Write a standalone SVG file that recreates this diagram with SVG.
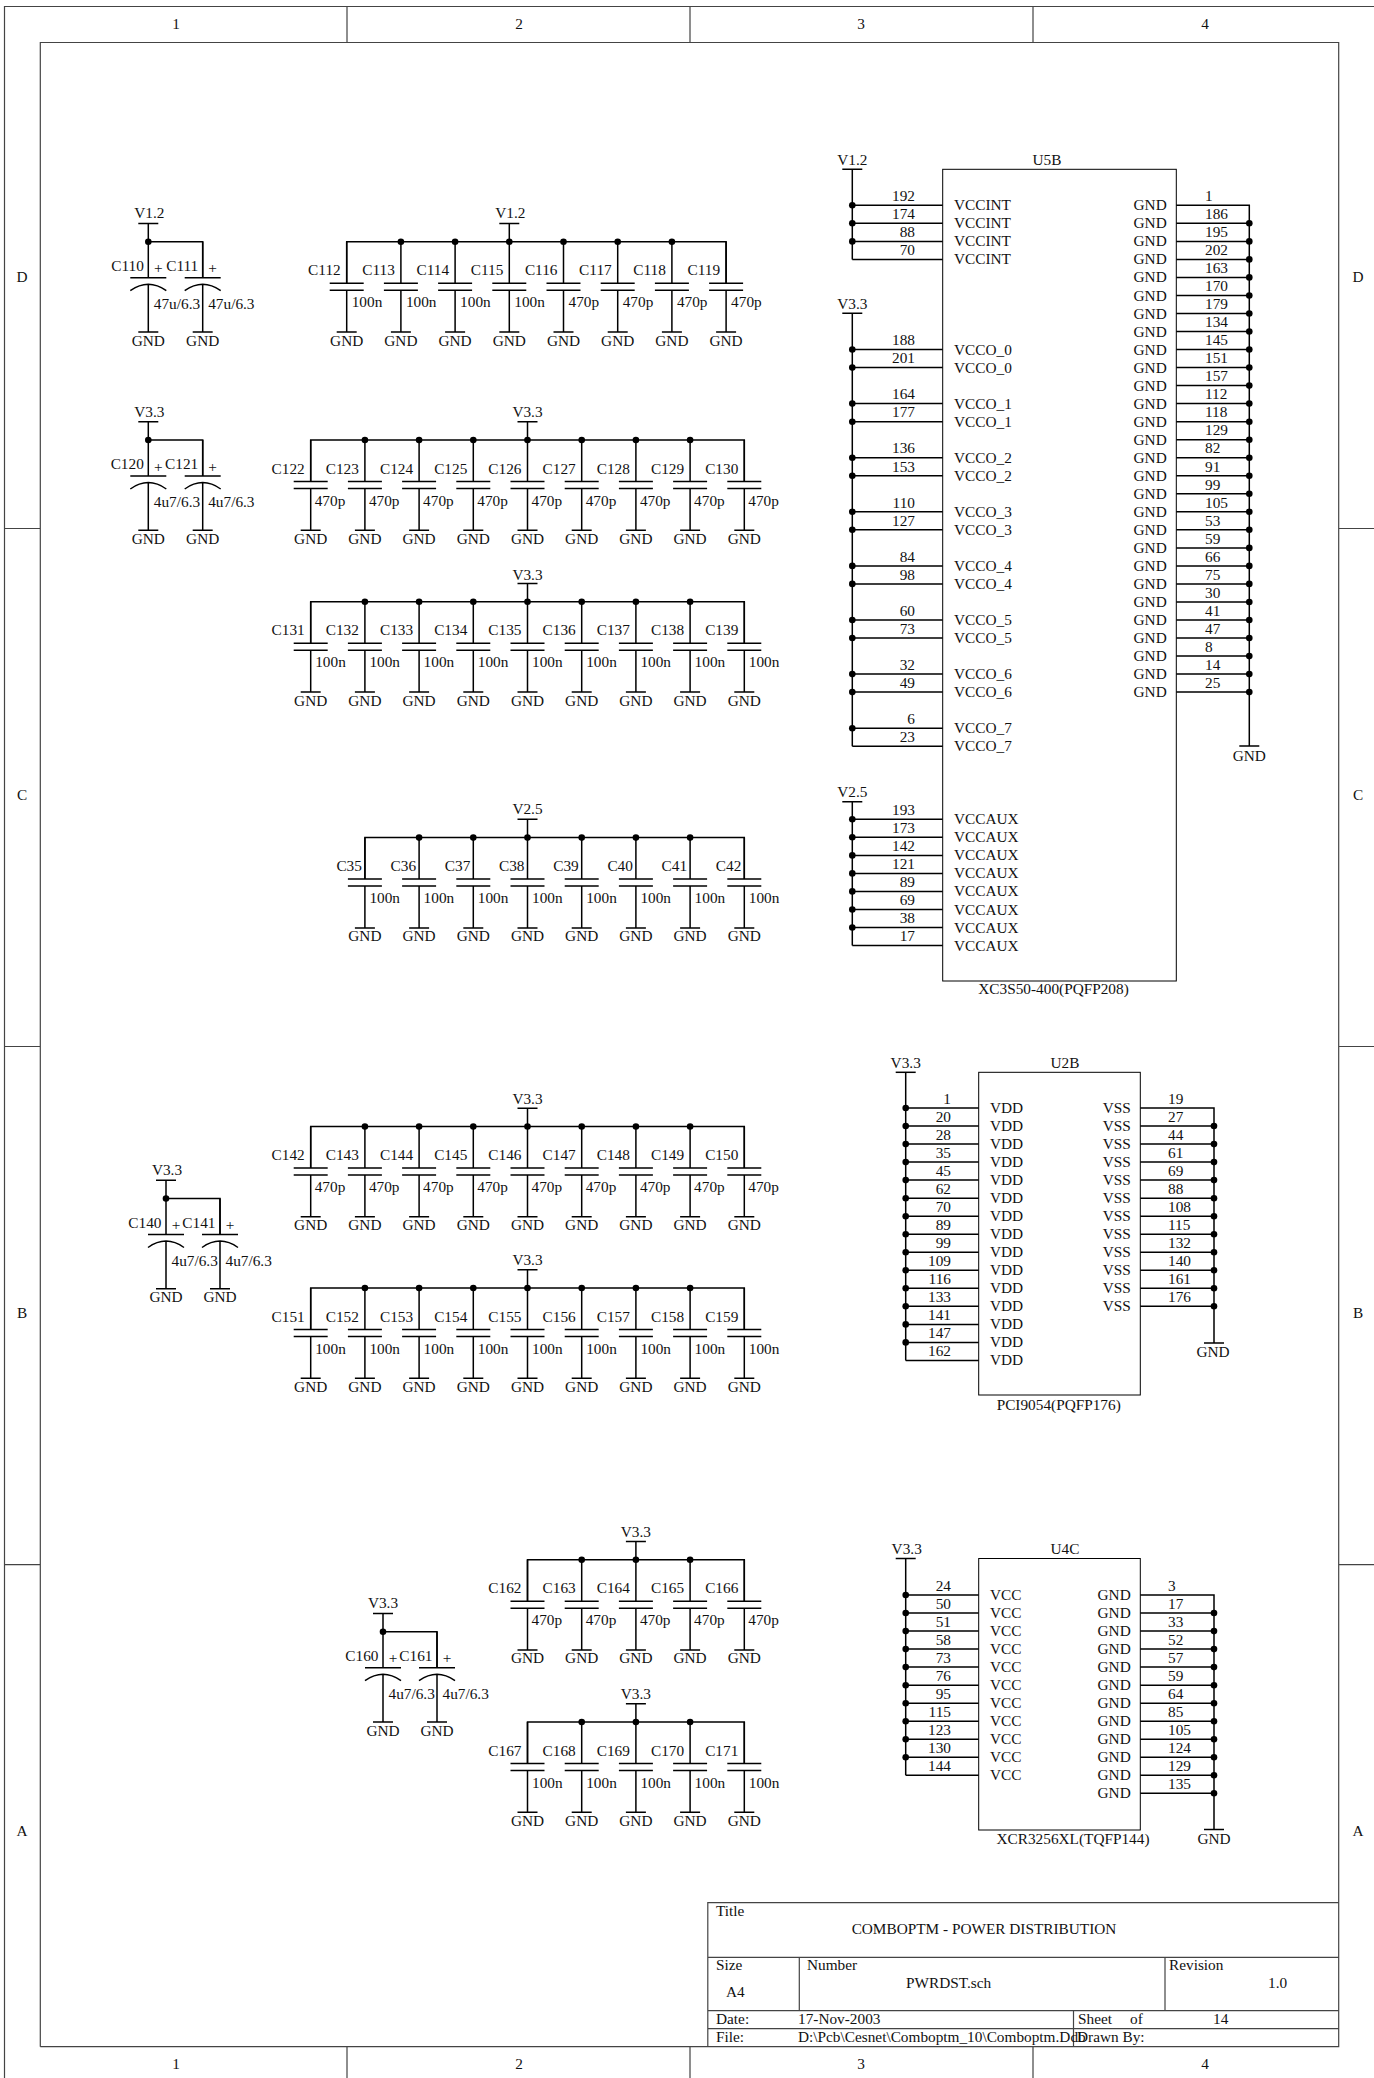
<svg xmlns="http://www.w3.org/2000/svg" width="1374" height="2078" viewBox="0 0 1374 2078">
<style>
text{font-family:"Liberation Serif","Times New Roman",serif;font-size:15.3px;fill:#111}
.e{text-anchor:end}
.m{text-anchor:middle}
.w{fill:none;stroke:#000;stroke-width:1.5}
.f{fill:none;stroke:#444;stroke-width:1.2}
.b{fill:none;stroke:#000;stroke-width:1}
.d{fill:#000}
</style>
<defs>
<g id="cap"><path class="w" d="M0 0V41.5M-17 41.5H17M-17 48.5H17M0 48.5V90.3M-10 90.3H10"/></g>
<g id="pol"><path class="w" d="M0 0V36M-18 36H18M-18 49Q0 36.2 18 49M0 42.6V90.3M-10 90.3H10"/></g>
<g id="pwr"><path class="w" d="M0 0V-18.3M-10 -18.3H10"/></g>
<circle id="j" r="3.3" class="d"/>
</defs>
<rect width="1374" height="2078" fill="#fff"/>
<g id="frame">
<path class="f" d="M4.5 2078V6.5H1374M40.3 2046.7V42.5H1338.7V2046.7H40.3M347 6.5V42.5M690 6.5V42.5M1033 6.5V42.5M347 2046.7V2078M690 2046.7V2078M1033 2046.7V2078M4.5 528.5H40.3M4.5 1046.5H40.3M4.5 1564.7H40.3M1338.7 528.5H1374M1338.7 1046.5H1374M1338.7 1564.7H1374"/>
<text class="m" x="176" y="29">1</text><text class="m" x="519" y="29">2</text><text class="m" x="861" y="29">3</text><text class="m" x="1205" y="29">4</text>
<text class="m" x="176" y="2069">1</text><text class="m" x="519" y="2069">2</text><text class="m" x="861" y="2069">3</text><text class="m" x="1205" y="2069">4</text>
<text class="m" x="22" y="282">D</text><text class="m" x="22" y="800">C</text><text class="m" x="22" y="1318">B</text><text class="m" x="22" y="1836">A</text>
<text class="m" x="1358" y="282">D</text><text class="m" x="1358" y="800">C</text><text class="m" x="1358" y="1318">B</text><text class="m" x="1358" y="1836">A</text>
</g>
<g id="connectors">
<path class="w" d="M148.3 241.7H202.7V277M148.3 440H202.7V476M166 1198.5H220V1234M383 1631.7H437V1667M346.7 283V241.7H726.1V283M310.7 481V440H744.3V481M310.7 643V601.7H744.3V643M364.9 879V837.6H744.3V879M310.7 1168V1126.5H744.3V1168M310.7 1329V1288H744.3V1329M527.5 1601V1559.7H744.3V1601M527.5 1763V1722H744.3V1763"/>
<g class="d">
<use href="#j" x="148.3" y="241.7"/><use href="#j" x="148.3" y="440"/><use href="#j" x="166" y="1198.5"/><use href="#j" x="383" y="1631.7"/>
<use href="#j" x="400.9" y="241.7"/><use href="#j" x="455.1" y="241.7"/><use href="#j" x="509.3" y="241.7"/><use href="#j" x="563.5" y="241.7"/><use href="#j" x="617.7" y="241.7"/><use href="#j" x="671.9" y="241.7"/>
<use href="#j" x="364.9" y="440"/><use href="#j" x="419.1" y="440"/><use href="#j" x="473.3" y="440"/><use href="#j" x="527.5" y="440"/><use href="#j" x="581.7" y="440"/><use href="#j" x="635.9" y="440"/><use href="#j" x="690.1" y="440"/>
<use href="#j" x="364.9" y="601.7"/><use href="#j" x="419.1" y="601.7"/><use href="#j" x="473.3" y="601.7"/><use href="#j" x="527.5" y="601.7"/><use href="#j" x="581.7" y="601.7"/><use href="#j" x="635.9" y="601.7"/><use href="#j" x="690.1" y="601.7"/>
<use href="#j" x="419.1" y="837.6"/><use href="#j" x="473.3" y="837.6"/><use href="#j" x="527.5" y="837.6"/><use href="#j" x="581.7" y="837.6"/><use href="#j" x="635.9" y="837.6"/><use href="#j" x="690.1" y="837.6"/>
<use href="#j" x="364.9" y="1126.5"/><use href="#j" x="419.1" y="1126.5"/><use href="#j" x="473.3" y="1126.5"/><use href="#j" x="527.5" y="1126.5"/><use href="#j" x="581.7" y="1126.5"/><use href="#j" x="635.9" y="1126.5"/><use href="#j" x="690.1" y="1126.5"/>
<use href="#j" x="364.9" y="1288"/><use href="#j" x="419.1" y="1288"/><use href="#j" x="473.3" y="1288"/><use href="#j" x="527.5" y="1288"/><use href="#j" x="581.7" y="1288"/><use href="#j" x="635.9" y="1288"/><use href="#j" x="690.1" y="1288"/>
<use href="#j" x="581.7" y="1559.7"/><use href="#j" x="635.9" y="1559.7"/><use href="#j" x="690.1" y="1559.7"/>
<use href="#j" x="581.7" y="1722"/><use href="#j" x="635.9" y="1722"/><use href="#j" x="690.1" y="1722"/>
</g>
<!-- U5B wiring -->
<path class="w" d="M852.3 169.3V259.4M852.3 205.3H942.7M852.3 223.3H942.7M852.3 241.4H942.7M852.3 259.4H942.7M852.3 313.3V746.2M852.3 349.5H942.7M852.3 367.6H942.7M852.3 403.6H942.7M852.3 421.7H942.7M852.3 457.7H942.7M852.3 475.8H942.7M852.3 511.8H942.7M852.3 529.8H942.7M852.3 565.9H942.7M852.3 583.9H942.7M852.3 620H942.7M852.3 638H942.7M852.3 674.1H942.7M852.3 692.1H942.7M852.3 728.2H942.7M852.3 746.2H942.7M852.3 801.7V945.5M852.3 819.3H942.7M852.3 837.3H942.7M852.3 855.4H942.7M852.3 873.4H942.7M852.3 891.4H942.7M852.3 909.5H942.7M852.3 927.5H942.7M852.3 945.5H942.7"/>
<path class="w" d="M1176.3 205.3H1249.3V746M1176.3 223.3H1249.3M1176.3 241.4H1249.3M1176.3 259.4H1249.3M1176.3 277.4H1249.3M1176.3 295.5H1249.3M1176.3 313.5H1249.3M1176.3 331.5H1249.3M1176.3 349.5H1249.3M1176.3 367.6H1249.3M1176.3 385.6H1249.3M1176.3 403.6H1249.3M1176.3 421.7H1249.3M1176.3 439.7H1249.3M1176.3 457.7H1249.3M1176.3 475.8H1249.3M1176.3 493.8H1249.3M1176.3 511.8H1249.3M1176.3 529.8H1249.3M1176.3 547.9H1249.3M1176.3 565.9H1249.3M1176.3 583.9H1249.3M1176.3 602H1249.3M1176.3 620H1249.3M1176.3 638H1249.3M1176.3 656.1H1249.3M1176.3 674.1H1249.3M1176.3 692.1H1249.3M1239.3 746H1259.3"/>
<g class="d">
<use href="#j" x="852.3" y="205.3"/><use href="#j" x="852.3" y="223.3"/><use href="#j" x="852.3" y="241.4"/>
<use href="#j" x="852.3" y="349.5"/><use href="#j" x="852.3" y="367.6"/><use href="#j" x="852.3" y="403.6"/><use href="#j" x="852.3" y="421.7"/><use href="#j" x="852.3" y="457.7"/><use href="#j" x="852.3" y="475.8"/><use href="#j" x="852.3" y="511.8"/><use href="#j" x="852.3" y="529.8"/><use href="#j" x="852.3" y="565.9"/><use href="#j" x="852.3" y="583.9"/><use href="#j" x="852.3" y="620"/><use href="#j" x="852.3" y="638"/><use href="#j" x="852.3" y="674.1"/><use href="#j" x="852.3" y="692.1"/><use href="#j" x="852.3" y="728.2"/>
<use href="#j" x="852.3" y="819.3"/><use href="#j" x="852.3" y="837.3"/><use href="#j" x="852.3" y="855.4"/><use href="#j" x="852.3" y="873.4"/><use href="#j" x="852.3" y="891.4"/><use href="#j" x="852.3" y="909.5"/><use href="#j" x="852.3" y="927.5"/>
<use href="#j" x="1249.3" y="223.3"/><use href="#j" x="1249.3" y="241.4"/><use href="#j" x="1249.3" y="259.4"/><use href="#j" x="1249.3" y="277.4"/><use href="#j" x="1249.3" y="295.5"/><use href="#j" x="1249.3" y="313.5"/><use href="#j" x="1249.3" y="331.5"/><use href="#j" x="1249.3" y="349.5"/><use href="#j" x="1249.3" y="367.6"/><use href="#j" x="1249.3" y="385.6"/><use href="#j" x="1249.3" y="403.6"/><use href="#j" x="1249.3" y="421.7"/><use href="#j" x="1249.3" y="439.7"/><use href="#j" x="1249.3" y="457.7"/><use href="#j" x="1249.3" y="475.8"/><use href="#j" x="1249.3" y="493.8"/><use href="#j" x="1249.3" y="511.8"/><use href="#j" x="1249.3" y="529.8"/><use href="#j" x="1249.3" y="547.9"/><use href="#j" x="1249.3" y="565.9"/><use href="#j" x="1249.3" y="583.9"/><use href="#j" x="1249.3" y="602"/><use href="#j" x="1249.3" y="620"/><use href="#j" x="1249.3" y="638"/><use href="#j" x="1249.3" y="656.1"/><use href="#j" x="1249.3" y="674.1"/><use href="#j" x="1249.3" y="692.1"/>
</g>
<!-- U2B wiring -->
<path class="w" d="M905.7 1072.3V1360.4M905.7 1108H978.7M905.7 1126H978.7M905.7 1144.1H978.7M905.7 1162.1H978.7M905.7 1180.1H978.7M905.7 1198.2H978.7M905.7 1216.2H978.7M905.7 1234.2H978.7M905.7 1252.2H978.7M905.7 1270.3H978.7M905.7 1288.3H978.7M905.7 1306.3H978.7M905.7 1324.4H978.7M905.7 1342.4H978.7M905.7 1360.4H978.7M1140.3 1108H1214V1343M1140.3 1126H1214M1140.3 1144.1H1214M1140.3 1162.1H1214M1140.3 1180.1H1214M1140.3 1198.2H1214M1140.3 1216.2H1214M1140.3 1234.2H1214M1140.3 1252.2H1214M1140.3 1270.3H1214M1140.3 1288.3H1214M1140.3 1306.3H1214M1204 1343H1224"/>
<g class="d">
<use href="#j" x="905.7" y="1108"/><use href="#j" x="905.7" y="1126"/><use href="#j" x="905.7" y="1144.1"/><use href="#j" x="905.7" y="1162.1"/><use href="#j" x="905.7" y="1180.1"/><use href="#j" x="905.7" y="1198.2"/><use href="#j" x="905.7" y="1216.2"/><use href="#j" x="905.7" y="1234.2"/><use href="#j" x="905.7" y="1252.2"/><use href="#j" x="905.7" y="1270.3"/><use href="#j" x="905.7" y="1288.3"/><use href="#j" x="905.7" y="1306.3"/><use href="#j" x="905.7" y="1324.4"/><use href="#j" x="905.7" y="1342.4"/>
<use href="#j" x="1214" y="1126"/><use href="#j" x="1214" y="1144.1"/><use href="#j" x="1214" y="1162.1"/><use href="#j" x="1214" y="1180.1"/><use href="#j" x="1214" y="1198.2"/><use href="#j" x="1214" y="1216.2"/><use href="#j" x="1214" y="1234.2"/><use href="#j" x="1214" y="1252.2"/><use href="#j" x="1214" y="1270.3"/><use href="#j" x="1214" y="1288.3"/><use href="#j" x="1214" y="1306.3"/>
</g>
<!-- U4C wiring -->
<path class="w" d="M905.7 1558.5V1775.3M905.7 1595H978.7M905.7 1613H978.7M905.7 1631.1H978.7M905.7 1649.1H978.7M905.7 1667.1H978.7M905.7 1685.2H978.7M905.7 1703.2H978.7M905.7 1721.2H978.7M905.7 1739.2H978.7M905.7 1757.3H978.7M905.7 1775.3H978.7M1140.3 1595H1214V1829.5M1140.3 1613H1214M1140.3 1631.1H1214M1140.3 1649.1H1214M1140.3 1667.1H1214M1140.3 1685.2H1214M1140.3 1703.2H1214M1140.3 1721.2H1214M1140.3 1739.2H1214M1140.3 1757.3H1214M1140.3 1775.3H1214M1140.3 1793.3H1214M1204 1829.5H1224"/>
<g class="d">
<use href="#j" x="905.7" y="1595"/><use href="#j" x="905.7" y="1613"/><use href="#j" x="905.7" y="1631.1"/><use href="#j" x="905.7" y="1649.1"/><use href="#j" x="905.7" y="1667.1"/><use href="#j" x="905.7" y="1685.2"/><use href="#j" x="905.7" y="1703.2"/><use href="#j" x="905.7" y="1721.2"/><use href="#j" x="905.7" y="1739.2"/><use href="#j" x="905.7" y="1757.3"/>
<use href="#j" x="1214" y="1613"/><use href="#j" x="1214" y="1631.1"/><use href="#j" x="1214" y="1649.1"/><use href="#j" x="1214" y="1667.1"/><use href="#j" x="1214" y="1685.2"/><use href="#j" x="1214" y="1703.2"/><use href="#j" x="1214" y="1721.2"/><use href="#j" x="1214" y="1739.2"/><use href="#j" x="1214" y="1757.3"/><use href="#j" x="1214" y="1775.3"/><use href="#j" x="1214" y="1793.3"/>
</g>
</g>
<!-- power ports -->
<g id="P1" transform="translate(148.3 241.7)"><use href="#pwr"/><text class="m" y="-23.3" x="1">V1.2</text></g>
<g id="P2" transform="translate(148.3 440)"><use href="#pwr"/><text class="m" y="-23.3" x="1">V3.3</text></g>
<g id="P3" transform="translate(166 1198.5)"><use href="#pwr"/><text class="m" y="-23.3" x="1">V3.3</text></g>
<g id="P4" transform="translate(383 1631.7)"><use href="#pwr"/><text class="m" y="-23.3">V3.3</text></g>
<g id="P5" transform="translate(509.3 241.7)"><use href="#pwr"/><text class="m" y="-23.3" x="1">V1.2</text></g>
<g id="P6" transform="translate(527.5 440)"><use href="#pwr"/><text class="m" y="-23.3">V3.3</text></g>
<g id="P7" transform="translate(527.5 601.7)"><use href="#pwr"/><text class="m" y="-22">V3.3</text></g>
<g id="P8" transform="translate(527.5 837.6)"><use href="#pwr"/><text class="m" y="-23.3">V2.5</text></g>
<g id="P9" transform="translate(527.5 1126.5)"><use href="#pwr"/><text class="m" y="-22.5">V3.3</text></g>
<g id="P10" transform="translate(527.5 1288)"><use href="#pwr"/><text class="m" y="-23.3">V3.3</text></g>
<g id="P11" transform="translate(635.9 1559.7)"><use href="#pwr"/><text class="m" y="-23">V3.3</text></g>
<g id="P12" transform="translate(635.9 1722)"><use href="#pwr"/><text class="m" y="-23">V3.3</text></g>
<!-- polarised caps -->
<g id="C110" transform="translate(148.3 241.7)"><use href="#pol"/><text class="e" x="-4.5" y="29.3">C110</text><text class="m" x="10" y="31.5">+</text><text x="5.5" y="67.3">47u/6.3</text><text class="m" y="104">GND</text></g>
<g id="C111" transform="translate(202.7 241.7)"><use href="#pol"/><text class="e" x="-4.5" y="29.3">C111</text><text class="m" x="10" y="31.5">+</text><text x="5.5" y="67.3">47u/6.3</text><text class="m" y="104">GND</text></g>
<g id="C120" transform="translate(148.3 440)"><use href="#pol"/><text class="e" x="-4.5" y="29.3">C120</text><text class="m" x="10" y="31.5">+</text><text x="5.5" y="67.3">4u7/6.3</text><text class="m" y="104">GND</text></g>
<g id="C121" transform="translate(202.7 440)"><use href="#pol"/><text class="e" x="-4.5" y="29.3">C121</text><text class="m" x="10" y="31.5">+</text><text x="5.5" y="67.3">4u7/6.3</text><text class="m" y="104">GND</text></g>
<g id="C140" transform="translate(166 1198.5)"><use href="#pol"/><text class="e" x="-4.5" y="29.3">C140</text><text class="m" x="10" y="31.5">+</text><text x="5.5" y="67.3">4u7/6.3</text><text class="m" y="103.5">GND</text></g>
<g id="C141" transform="translate(220 1198.5)"><use href="#pol"/><text class="e" x="-4.5" y="29.3">C141</text><text class="m" x="10" y="31.5">+</text><text x="5.5" y="67.3">4u7/6.3</text><text class="m" y="103.5">GND</text></g>
<g id="C160" transform="translate(383 1631.7)"><use href="#pol"/><text class="e" x="-4.5" y="29.3">C160</text><text class="m" x="10" y="31.5">+</text><text x="5.5" y="67.3">4u7/6.3</text><text class="m" y="104">GND</text></g>
<g id="C161" transform="translate(437 1631.7)"><use href="#pol"/><text class="e" x="-4.5" y="29.3">C161</text><text class="m" x="10" y="31.5">+</text><text x="5.5" y="67.3">4u7/6.3</text><text class="m" y="104">GND</text></g>
<!-- row 1 -->
<g id="C112" transform="translate(346.7 241.7)"><use href="#cap"/><text class="e" x="-6" y="33.5">C112</text><text x="5" y="65.5">100n</text><text class="m" y="104">GND</text></g>
<g id="C113" transform="translate(400.9 241.7)"><use href="#cap"/><text class="e" x="-6" y="33.5">C113</text><text x="5" y="65.5">100n</text><text class="m" y="104">GND</text></g>
<g id="C114" transform="translate(455.1 241.7)"><use href="#cap"/><text class="e" x="-6" y="33.5">C114</text><text x="5" y="65.5">100n</text><text class="m" y="104">GND</text></g>
<g id="C115" transform="translate(509.3 241.7)"><use href="#cap"/><text class="e" x="-6" y="33.5">C115</text><text x="5" y="65.5">100n</text><text class="m" y="104">GND</text></g>
<g id="C116" transform="translate(563.5 241.7)"><use href="#cap"/><text class="e" x="-6" y="33.5">C116</text><text x="5" y="65.5">470p</text><text class="m" y="104">GND</text></g>
<g id="C117" transform="translate(617.7 241.7)"><use href="#cap"/><text class="e" x="-6" y="33.5">C117</text><text x="5" y="65.5">470p</text><text class="m" y="104">GND</text></g>
<g id="C118" transform="translate(671.9 241.7)"><use href="#cap"/><text class="e" x="-6" y="33.5">C118</text><text x="5" y="65.5">470p</text><text class="m" y="104">GND</text></g>
<g id="C119" transform="translate(726.1 241.7)"><use href="#cap"/><text class="e" x="-6" y="33.5">C119</text><text x="5" y="65.5">470p</text><text class="m" y="104">GND</text></g>
<!-- row 2 -->
<g id="C122" transform="translate(310.7 440)"><use href="#cap"/><text class="e" x="-6" y="33.5">C122</text><text x="4" y="65.5">470p</text><text class="m" y="104">GND</text></g>
<g id="C123" transform="translate(364.9 440)"><use href="#cap"/><text class="e" x="-6" y="33.5">C123</text><text x="4" y="65.5">470p</text><text class="m" y="104">GND</text></g>
<g id="C124" transform="translate(419.1 440)"><use href="#cap"/><text class="e" x="-6" y="33.5">C124</text><text x="4" y="65.5">470p</text><text class="m" y="104">GND</text></g>
<g id="C125" transform="translate(473.3 440)"><use href="#cap"/><text class="e" x="-6" y="33.5">C125</text><text x="4" y="65.5">470p</text><text class="m" y="104">GND</text></g>
<g id="C126" transform="translate(527.5 440)"><use href="#cap"/><text class="e" x="-6" y="33.5">C126</text><text x="4" y="65.5">470p</text><text class="m" y="104">GND</text></g>
<g id="C127" transform="translate(581.7 440)"><use href="#cap"/><text class="e" x="-6" y="33.5">C127</text><text x="4" y="65.5">470p</text><text class="m" y="104">GND</text></g>
<g id="C128" transform="translate(635.9 440)"><use href="#cap"/><text class="e" x="-6" y="33.5">C128</text><text x="4" y="65.5">470p</text><text class="m" y="104">GND</text></g>
<g id="C129" transform="translate(690.1 440)"><use href="#cap"/><text class="e" x="-6" y="33.5">C129</text><text x="4" y="65.5">470p</text><text class="m" y="104">GND</text></g>
<g id="C130" transform="translate(744.3 440)"><use href="#cap"/><text class="e" x="-6" y="33.5">C130</text><text x="4" y="65.5">470p</text><text class="m" y="104">GND</text></g>
<!-- row 3 -->
<g id="C131" transform="translate(310.7 601.7)"><use href="#cap"/><text class="e" x="-6" y="33.5">C131</text><text x="4.5" y="65.5">100n</text><text class="m" y="104">GND</text></g>
<g id="C132" transform="translate(364.9 601.7)"><use href="#cap"/><text class="e" x="-6" y="33.5">C132</text><text x="4.5" y="65.5">100n</text><text class="m" y="104">GND</text></g>
<g id="C133" transform="translate(419.1 601.7)"><use href="#cap"/><text class="e" x="-6" y="33.5">C133</text><text x="4.5" y="65.5">100n</text><text class="m" y="104">GND</text></g>
<g id="C134" transform="translate(473.3 601.7)"><use href="#cap"/><text class="e" x="-6" y="33.5">C134</text><text x="4.5" y="65.5">100n</text><text class="m" y="104">GND</text></g>
<g id="C135" transform="translate(527.5 601.7)"><use href="#cap"/><text class="e" x="-6" y="33.5">C135</text><text x="4.5" y="65.5">100n</text><text class="m" y="104">GND</text></g>
<g id="C136" transform="translate(581.7 601.7)"><use href="#cap"/><text class="e" x="-6" y="33.5">C136</text><text x="4.5" y="65.5">100n</text><text class="m" y="104">GND</text></g>
<g id="C137" transform="translate(635.9 601.7)"><use href="#cap"/><text class="e" x="-6" y="33.5">C137</text><text x="4.5" y="65.5">100n</text><text class="m" y="104">GND</text></g>
<g id="C138" transform="translate(690.1 601.7)"><use href="#cap"/><text class="e" x="-6" y="33.5">C138</text><text x="4.5" y="65.5">100n</text><text class="m" y="104">GND</text></g>
<g id="C139" transform="translate(744.3 601.7)"><use href="#cap"/><text class="e" x="-6" y="33.5">C139</text><text x="4.5" y="65.5">100n</text><text class="m" y="104">GND</text></g>
<!-- row 4 -->
<g id="C35" transform="translate(364.9 837.6)"><use href="#cap"/><text class="e" x="-3" y="33.5">C35</text><text x="4.5" y="65.5">100n</text><text class="m" y="103">GND</text></g>
<g id="C36" transform="translate(419.1 837.6)"><use href="#cap"/><text class="e" x="-3" y="33.5">C36</text><text x="4.5" y="65.5">100n</text><text class="m" y="103">GND</text></g>
<g id="C37" transform="translate(473.3 837.6)"><use href="#cap"/><text class="e" x="-3" y="33.5">C37</text><text x="4.5" y="65.5">100n</text><text class="m" y="103">GND</text></g>
<g id="C38" transform="translate(527.5 837.6)"><use href="#cap"/><text class="e" x="-3" y="33.5">C38</text><text x="4.5" y="65.5">100n</text><text class="m" y="103">GND</text></g>
<g id="C39" transform="translate(581.7 837.6)"><use href="#cap"/><text class="e" x="-3" y="33.5">C39</text><text x="4.5" y="65.5">100n</text><text class="m" y="103">GND</text></g>
<g id="C40" transform="translate(635.9 837.6)"><use href="#cap"/><text class="e" x="-3" y="33.5">C40</text><text x="4.5" y="65.5">100n</text><text class="m" y="103">GND</text></g>
<g id="C41" transform="translate(690.1 837.6)"><use href="#cap"/><text class="e" x="-3" y="33.5">C41</text><text x="4.5" y="65.5">100n</text><text class="m" y="103">GND</text></g>
<g id="C42" transform="translate(744.3 837.6)"><use href="#cap"/><text class="e" x="-3" y="33.5">C42</text><text x="4.5" y="65.5">100n</text><text class="m" y="103">GND</text></g>
<!-- row 5 -->
<g id="C142" transform="translate(310.7 1126.5)"><use href="#cap"/><text class="e" x="-6" y="33">C142</text><text x="4" y="65.5">470p</text><text class="m" y="103">GND</text></g>
<g id="C143" transform="translate(364.9 1126.5)"><use href="#cap"/><text class="e" x="-6" y="33">C143</text><text x="4" y="65.5">470p</text><text class="m" y="103">GND</text></g>
<g id="C144" transform="translate(419.1 1126.5)"><use href="#cap"/><text class="e" x="-6" y="33">C144</text><text x="4" y="65.5">470p</text><text class="m" y="103">GND</text></g>
<g id="C145" transform="translate(473.3 1126.5)"><use href="#cap"/><text class="e" x="-6" y="33">C145</text><text x="4" y="65.5">470p</text><text class="m" y="103">GND</text></g>
<g id="C146" transform="translate(527.5 1126.5)"><use href="#cap"/><text class="e" x="-6" y="33">C146</text><text x="4" y="65.5">470p</text><text class="m" y="103">GND</text></g>
<g id="C147" transform="translate(581.7 1126.5)"><use href="#cap"/><text class="e" x="-6" y="33">C147</text><text x="4" y="65.5">470p</text><text class="m" y="103">GND</text></g>
<g id="C148" transform="translate(635.9 1126.5)"><use href="#cap"/><text class="e" x="-6" y="33">C148</text><text x="4" y="65.5">470p</text><text class="m" y="103">GND</text></g>
<g id="C149" transform="translate(690.1 1126.5)"><use href="#cap"/><text class="e" x="-6" y="33">C149</text><text x="4" y="65.5">470p</text><text class="m" y="103">GND</text></g>
<g id="C150" transform="translate(744.3 1126.5)"><use href="#cap"/><text class="e" x="-6" y="33">C150</text><text x="4" y="65.5">470p</text><text class="m" y="103">GND</text></g>
<!-- row 6 -->
<g id="C151" transform="translate(310.7 1288)"><use href="#cap"/><text class="e" x="-6" y="33.5">C151</text><text x="4.5" y="65.5">100n</text><text class="m" y="104">GND</text></g>
<g id="C152" transform="translate(364.9 1288)"><use href="#cap"/><text class="e" x="-6" y="33.5">C152</text><text x="4.5" y="65.5">100n</text><text class="m" y="104">GND</text></g>
<g id="C153" transform="translate(419.1 1288)"><use href="#cap"/><text class="e" x="-6" y="33.5">C153</text><text x="4.5" y="65.5">100n</text><text class="m" y="104">GND</text></g>
<g id="C154" transform="translate(473.3 1288)"><use href="#cap"/><text class="e" x="-6" y="33.5">C154</text><text x="4.5" y="65.5">100n</text><text class="m" y="104">GND</text></g>
<g id="C155" transform="translate(527.5 1288)"><use href="#cap"/><text class="e" x="-6" y="33.5">C155</text><text x="4.5" y="65.5">100n</text><text class="m" y="104">GND</text></g>
<g id="C156" transform="translate(581.7 1288)"><use href="#cap"/><text class="e" x="-6" y="33.5">C156</text><text x="4.5" y="65.5">100n</text><text class="m" y="104">GND</text></g>
<g id="C157" transform="translate(635.9 1288)"><use href="#cap"/><text class="e" x="-6" y="33.5">C157</text><text x="4.5" y="65.5">100n</text><text class="m" y="104">GND</text></g>
<g id="C158" transform="translate(690.1 1288)"><use href="#cap"/><text class="e" x="-6" y="33.5">C158</text><text x="4.5" y="65.5">100n</text><text class="m" y="104">GND</text></g>
<g id="C159" transform="translate(744.3 1288)"><use href="#cap"/><text class="e" x="-6" y="33.5">C159</text><text x="4.5" y="65.5">100n</text><text class="m" y="104">GND</text></g>
<!-- row 7 -->
<g id="C162" transform="translate(527.5 1559.7)"><use href="#cap"/><text class="e" x="-6" y="33.5">C162</text><text x="4" y="65.5">470p</text><text class="m" y="103">GND</text></g>
<g id="C163" transform="translate(581.7 1559.7)"><use href="#cap"/><text class="e" x="-6" y="33.5">C163</text><text x="4" y="65.5">470p</text><text class="m" y="103">GND</text></g>
<g id="C164" transform="translate(635.9 1559.7)"><use href="#cap"/><text class="e" x="-6" y="33.5">C164</text><text x="4" y="65.5">470p</text><text class="m" y="103">GND</text></g>
<g id="C165" transform="translate(690.1 1559.7)"><use href="#cap"/><text class="e" x="-6" y="33.5">C165</text><text x="4" y="65.5">470p</text><text class="m" y="103">GND</text></g>
<g id="C166" transform="translate(744.3 1559.7)"><use href="#cap"/><text class="e" x="-6" y="33.5">C166</text><text x="4" y="65.5">470p</text><text class="m" y="103">GND</text></g>
<!-- row 8 -->
<g id="C167" transform="translate(527.5 1722)"><use href="#cap"/><text class="e" x="-6" y="33.5">C167</text><text x="4.5" y="65.5">100n</text><text class="m" y="104">GND</text></g>
<g id="C168" transform="translate(581.7 1722)"><use href="#cap"/><text class="e" x="-6" y="33.5">C168</text><text x="4.5" y="65.5">100n</text><text class="m" y="104">GND</text></g>
<g id="C169" transform="translate(635.9 1722)"><use href="#cap"/><text class="e" x="-6" y="33.5">C169</text><text x="4.5" y="65.5">100n</text><text class="m" y="104">GND</text></g>
<g id="C170" transform="translate(690.1 1722)"><use href="#cap"/><text class="e" x="-6" y="33.5">C170</text><text x="4.5" y="65.5">100n</text><text class="m" y="104">GND</text></g>
<g id="C171" transform="translate(744.3 1722)"><use href="#cap"/><text class="e" x="-6" y="33.5">C171</text><text x="4.5" y="65.5">100n</text><text class="m" y="104">GND</text></g>
<!-- U5B -->
<g id="U5B">
<rect class="b" x="942.7" y="169.3" width="233.6" height="811.7"/>
<text class="m" x="1047" y="165">U5B</text>
<text x="978.3" y="994">XC3S50-400(PQFP208)</text>
<path class="w" d="M842.3 169.3H862.3M842.3 313.3H862.3M842.3 801.7H862.3"/>
<text class="m" x="852.3" y="165">V1.2</text><text class="m" x="852.3" y="309">V3.3</text><text class="m" x="852.3" y="796.7">V2.5</text>
<text x="954" y="210.3">VCCINT</text><text x="954" y="228.3">VCCINT</text><text x="954" y="246.4">VCCINT</text><text x="954" y="264.4">VCCINT</text>
<text class="e" x="915" y="201">192</text><text class="e" x="915" y="219">174</text><text class="e" x="915" y="237.1">88</text><text class="e" x="915" y="255.1">70</text>
<text x="954" y="354.5">VCCO_0</text><text x="954" y="372.6">VCCO_0</text><text x="954" y="408.6">VCCO_1</text><text x="954" y="426.7">VCCO_1</text><text x="954" y="462.7">VCCO_2</text><text x="954" y="480.8">VCCO_2</text><text x="954" y="516.8">VCCO_3</text><text x="954" y="534.8">VCCO_3</text><text x="954" y="570.9">VCCO_4</text><text x="954" y="588.9">VCCO_4</text><text x="954" y="625">VCCO_5</text><text x="954" y="643">VCCO_5</text><text x="954" y="679.1">VCCO_6</text><text x="954" y="697.1">VCCO_6</text><text x="954" y="733.2">VCCO_7</text><text x="954" y="751.2">VCCO_7</text>
<text class="e" x="915" y="345.2">188</text><text class="e" x="915" y="363.3">201</text><text class="e" x="915" y="399.3">164</text><text class="e" x="915" y="417.4">177</text><text class="e" x="915" y="453.4">136</text><text class="e" x="915" y="471.5">153</text><text class="e" x="915" y="507.5">110</text><text class="e" x="915" y="525.5">127</text><text class="e" x="915" y="561.6">84</text><text class="e" x="915" y="579.6">98</text><text class="e" x="915" y="615.7">60</text><text class="e" x="915" y="633.7">73</text><text class="e" x="915" y="669.8">32</text><text class="e" x="915" y="687.8">49</text><text class="e" x="915" y="723.9">6</text><text class="e" x="915" y="741.9">23</text>
<text x="954" y="824.3">VCCAUX</text><text x="954" y="842.3">VCCAUX</text><text x="954" y="860.4">VCCAUX</text><text x="954" y="878.4">VCCAUX</text><text x="954" y="896.4">VCCAUX</text><text x="954" y="914.5">VCCAUX</text><text x="954" y="932.5">VCCAUX</text><text x="954" y="950.5">VCCAUX</text>
<text class="e" x="915" y="815">193</text><text class="e" x="915" y="833">173</text><text class="e" x="915" y="851.1">142</text><text class="e" x="915" y="869.1">121</text><text class="e" x="915" y="887.1">89</text><text class="e" x="915" y="905.2">69</text><text class="e" x="915" y="923.2">38</text><text class="e" x="915" y="941.2">17</text>
<text class="e" x="1166.7" y="210.3">GND</text><text class="e" x="1166.7" y="228.3">GND</text><text class="e" x="1166.7" y="246.4">GND</text><text class="e" x="1166.7" y="264.4">GND</text><text class="e" x="1166.7" y="282.4">GND</text><text class="e" x="1166.7" y="300.5">GND</text><text class="e" x="1166.7" y="318.5">GND</text><text class="e" x="1166.7" y="336.5">GND</text><text class="e" x="1166.7" y="354.5">GND</text><text class="e" x="1166.7" y="372.6">GND</text><text class="e" x="1166.7" y="390.6">GND</text><text class="e" x="1166.7" y="408.6">GND</text><text class="e" x="1166.7" y="426.7">GND</text><text class="e" x="1166.7" y="444.7">GND</text><text class="e" x="1166.7" y="462.7">GND</text><text class="e" x="1166.7" y="480.8">GND</text><text class="e" x="1166.7" y="498.8">GND</text><text class="e" x="1166.7" y="516.8">GND</text><text class="e" x="1166.7" y="534.8">GND</text><text class="e" x="1166.7" y="552.9">GND</text><text class="e" x="1166.7" y="570.9">GND</text><text class="e" x="1166.7" y="588.9">GND</text><text class="e" x="1166.7" y="607">GND</text><text class="e" x="1166.7" y="625">GND</text><text class="e" x="1166.7" y="643">GND</text><text class="e" x="1166.7" y="661.1">GND</text><text class="e" x="1166.7" y="679.1">GND</text><text class="e" x="1166.7" y="697.1">GND</text>
<text x="1205" y="201">1</text><text x="1205" y="219">186</text><text x="1205" y="237.1">195</text><text x="1205" y="255.1">202</text><text x="1205" y="273.1">163</text><text x="1205" y="291.2">170</text><text x="1205" y="309.2">179</text><text x="1205" y="327.2">134</text><text x="1205" y="345.2">145</text><text x="1205" y="363.3">151</text><text x="1205" y="381.3">157</text><text x="1205" y="399.3">112</text><text x="1205" y="417.4">118</text><text x="1205" y="435.4">129</text><text x="1205" y="453.4">82</text><text x="1205" y="471.5">91</text><text x="1205" y="489.5">99</text><text x="1205" y="507.5">105</text><text x="1205" y="525.5">53</text><text x="1205" y="543.6">59</text><text x="1205" y="561.6">66</text><text x="1205" y="579.6">75</text><text x="1205" y="597.7">30</text><text x="1205" y="615.7">41</text><text x="1205" y="633.7">47</text><text x="1205" y="651.8">8</text><text x="1205" y="669.8">14</text><text x="1205" y="687.8">25</text>
<text class="m" x="1249.3" y="760.5">GND</text>
</g>
<!-- U2B -->
<g id="U2B">
<rect class="b" x="978.7" y="1072.3" width="161.6" height="322.7"/>
<path class="w" d="M895.7 1072.3H915.7"/>
<text class="m" x="905.7" y="1067.7">V3.3</text>
<text class="m" x="1065" y="1068">U2B</text>
<text class="m" x="1058.7" y="1410">PCI9054(PQFP176)</text>
<text x="990" y="1113">VDD</text><text x="990" y="1131">VDD</text><text x="990" y="1149.1">VDD</text><text x="990" y="1167.1">VDD</text><text x="990" y="1185.1">VDD</text><text x="990" y="1203.2">VDD</text><text x="990" y="1221.2">VDD</text><text x="990" y="1239.2">VDD</text><text x="990" y="1257.2">VDD</text><text x="990" y="1275.3">VDD</text><text x="990" y="1293.3">VDD</text><text x="990" y="1311.3">VDD</text><text x="990" y="1329.4">VDD</text><text x="990" y="1347.4">VDD</text><text x="990" y="1365.4">VDD</text>
<text class="e" x="951" y="1103.7">1</text><text class="e" x="951" y="1121.7">20</text><text class="e" x="951" y="1139.8">28</text><text class="e" x="951" y="1157.8">35</text><text class="e" x="951" y="1175.8">45</text><text class="e" x="951" y="1193.9">62</text><text class="e" x="951" y="1211.9">70</text><text class="e" x="951" y="1229.9">89</text><text class="e" x="951" y="1247.9">99</text><text class="e" x="951" y="1266">109</text><text class="e" x="951" y="1284">116</text><text class="e" x="951" y="1302">133</text><text class="e" x="951" y="1320.1">141</text><text class="e" x="951" y="1338.1">147</text><text class="e" x="951" y="1356.1">162</text>
<text class="e" x="1130.7" y="1113">VSS</text><text class="e" x="1130.7" y="1131">VSS</text><text class="e" x="1130.7" y="1149.1">VSS</text><text class="e" x="1130.7" y="1167.1">VSS</text><text class="e" x="1130.7" y="1185.1">VSS</text><text class="e" x="1130.7" y="1203.2">VSS</text><text class="e" x="1130.7" y="1221.2">VSS</text><text class="e" x="1130.7" y="1239.2">VSS</text><text class="e" x="1130.7" y="1257.2">VSS</text><text class="e" x="1130.7" y="1275.3">VSS</text><text class="e" x="1130.7" y="1293.3">VSS</text><text class="e" x="1130.7" y="1311.3">VSS</text>
<text x="1168" y="1103.7">19</text><text x="1168" y="1121.7">27</text><text x="1168" y="1139.8">44</text><text x="1168" y="1157.8">61</text><text x="1168" y="1175.8">69</text><text x="1168" y="1193.9">88</text><text x="1168" y="1211.9">108</text><text x="1168" y="1229.9">115</text><text x="1168" y="1247.9">132</text><text x="1168" y="1266">140</text><text x="1168" y="1284">161</text><text x="1168" y="1302">176</text>
<text class="m" x="1213" y="1357">GND</text>
</g>
<!-- U4C -->
<g id="U4C">
<rect class="b" x="978.7" y="1558.5" width="161.6" height="271.5"/>
<path class="w" d="M895.7 1558.5H915.7"/>
<text class="m" x="906.7" y="1554">V3.3</text>
<text class="m" x="1065" y="1554">U4C</text>
<text class="m" x="1073" y="1843.5">XCR3256XL(TQFP144)</text>
<text x="990" y="1600">VCC</text><text x="990" y="1618">VCC</text><text x="990" y="1636.1">VCC</text><text x="990" y="1654.1">VCC</text><text x="990" y="1672.1">VCC</text><text x="990" y="1690.2">VCC</text><text x="990" y="1708.2">VCC</text><text x="990" y="1726.2">VCC</text><text x="990" y="1744.2">VCC</text><text x="990" y="1762.3">VCC</text><text x="990" y="1780.3">VCC</text>
<text class="e" x="951" y="1590.7">24</text><text class="e" x="951" y="1608.7">50</text><text class="e" x="951" y="1626.8">51</text><text class="e" x="951" y="1644.8">58</text><text class="e" x="951" y="1662.8">73</text><text class="e" x="951" y="1680.9">76</text><text class="e" x="951" y="1698.9">95</text><text class="e" x="951" y="1716.9">115</text><text class="e" x="951" y="1734.9">123</text><text class="e" x="951" y="1753">130</text><text class="e" x="951" y="1771">144</text>
<text class="e" x="1130.7" y="1600">GND</text><text class="e" x="1130.7" y="1618">GND</text><text class="e" x="1130.7" y="1636.1">GND</text><text class="e" x="1130.7" y="1654.1">GND</text><text class="e" x="1130.7" y="1672.1">GND</text><text class="e" x="1130.7" y="1690.2">GND</text><text class="e" x="1130.7" y="1708.2">GND</text><text class="e" x="1130.7" y="1726.2">GND</text><text class="e" x="1130.7" y="1744.2">GND</text><text class="e" x="1130.7" y="1762.3">GND</text><text class="e" x="1130.7" y="1780.3">GND</text><text class="e" x="1130.7" y="1798.3">GND</text>
<text x="1168" y="1590.7">3</text><text x="1168" y="1608.7">17</text><text x="1168" y="1626.8">33</text><text x="1168" y="1644.8">52</text><text x="1168" y="1662.8">57</text><text x="1168" y="1680.9">59</text><text x="1168" y="1698.9">64</text><text x="1168" y="1716.9">85</text><text x="1168" y="1734.9">105</text><text x="1168" y="1753">124</text><text x="1168" y="1771">129</text><text x="1168" y="1789">135</text>
<text class="m" x="1214" y="1843.5">GND</text>
</g>
<!-- title block -->
<g id="title-block">
<path class="f" d="M707.8 2046.7V1902.7H1338.7M707.8 1957.3H1338.7M707.8 2010.7H1338.7M707.8 2028.7H1338.7M799.3 1957.3V2010.7M1165 1957.3V2010.7M1073.5 2010.7V2046.7"/>
<text x="716" y="1915.5">Title</text>
<text class="m" x="984" y="1934">COMBOPTM - POWER DISTRIBUTION</text>
<text x="716" y="1970">Size</text><text x="807" y="1970">Number</text><text x="1169" y="1970">Revision</text>
<text x="726" y="1996.7">A4</text><text x="906" y="1987.7">PWRDST.sch</text><text x="1268" y="1987.7">1.0</text>
<text x="716" y="2024.3">Date:</text><text x="798" y="2024.3">17-Nov-2003</text><text x="1078" y="2024.3">Sheet</text><text x="1130" y="2024.3">of</text><text x="1213" y="2024.3">14</text>
<text x="716" y="2042">File:</text><text x="798" y="2042">D:\Pcb\Cesnet\Comboptm_10\Comboptm.Ddb</text><text x="1077" y="2042">Drawn By:</text>
</g>
</svg>
